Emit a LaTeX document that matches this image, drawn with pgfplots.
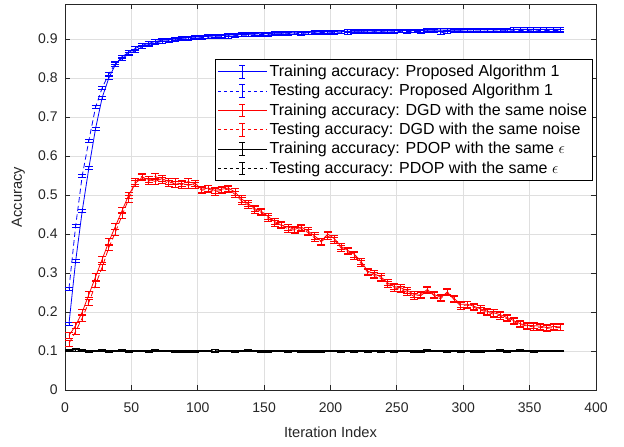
\documentclass[border=0pt]{standalone}
\usepackage{pgfplots}
\usepackage{pgfplotstable}
\pgfplotsset{compat=1.18}
\usepackage{fontspec}
\setmainfont{Liberation Sans}

\definecolor{gridgray}{RGB}{223,223,223}
\definecolor{axgray}{RGB}{38,38,38}

% x, training/testing accuracy for the three methods
\pgfplotstableread{
x   bt    bs    rt    rs    kt    ks
3   0.170 0.260 0.140 0.120 0.103 0.100
8   0.330 0.420 0.165 0.150 0.105 0.101
13  0.460 0.550 0.200 0.185 0.101 0.100
18  0.570 0.640 0.245 0.225 0.100 0.099
23  0.670 0.725 0.290 0.270 0.100 0.100
28  0.750 0.775 0.335 0.315 0.101 0.100
33  0.800 0.810 0.380 0.365 0.100 0.099
38  0.835 0.838 0.420 0.405 0.100 0.100
43  0.855 0.850 0.460 0.448 0.101 0.100
48  0.866 0.862 0.500 0.490 0.100 0.099
53  0.876 0.870 0.530 0.535 0.100 0.100
58  0.884 0.880 0.545 0.548 0.100 0.100
63  0.889 0.886 0.540 0.535 0.100 0.099
68  0.894 0.890 0.535 0.548 0.102 0.100
73  0.897 0.894 0.542 0.538 0.100 0.100
78  0.899 0.896 0.535 0.530 0.100 0.100
83  0.901 0.898 0.528 0.535 0.100 0.099
88  0.902 0.900 0.530 0.526 0.099 0.100
93  0.904 0.901 0.525 0.535 0.098 0.100
98  0.905 0.902 0.530 0.524 0.100 0.099
103 0.906 0.904 0.515 0.512 0.100 0.100
108 0.907 0.905 0.518 0.516 0.100 0.100
113 0.908 0.906 0.512 0.508 0.098 0.101
118 0.909 0.906 0.515 0.512 0.100 0.100
123 0.910 0.907 0.518 0.515 0.100 0.100
128 0.911 0.909 0.508 0.502 0.100 0.099
133 0.912 0.910 0.490 0.485 0.100 0.100
138 0.912 0.910 0.478 0.474 0.101 0.100
143 0.913 0.911 0.465 0.462 0.100 0.100
148 0.914 0.912 0.458 0.455 0.099 0.100
153 0.914 0.912 0.445 0.440 0.098 0.099
158 0.915 0.913 0.432 0.428 0.100 0.100
163 0.915 0.913 0.422 0.425 0.100 0.100
168 0.916 0.914 0.418 0.412 0.100 0.099
173 0.916 0.915 0.412 0.410 0.100 0.100
178 0.917 0.914 0.418 0.414 0.098 0.100
183 0.917 0.916 0.408 0.404 0.099 0.100
188 0.918 0.916 0.395 0.390 0.100 0.099
193 0.918 0.917 0.382 0.380 0.099 0.100
198 0.919 0.916 0.400 0.395 0.100 0.100
203 0.919 0.917 0.388 0.384 0.100 0.100
208 0.919 0.918 0.368 0.364 0.100 0.099
213 0.920 0.917 0.358 0.355 0.100 0.100
218 0.920 0.918 0.348 0.344 0.099 0.100
223 0.920 0.919 0.330 0.325 0.100 0.100
228 0.921 0.918 0.305 0.302 0.100 0.099
233 0.921 0.919 0.298 0.294 0.100 0.100
238 0.921 0.919 0.290 0.286 0.099 0.100
243 0.921 0.918 0.275 0.270 0.100 0.100
248 0.922 0.919 0.265 0.262 0.100 0.099
253 0.922 0.920 0.262 0.258 0.100 0.100
258 0.922 0.919 0.255 0.250 0.100 0.100
263 0.922 0.920 0.245 0.240 0.099 0.100
268 0.922 0.919 0.242 0.245 0.098 0.099
273 0.923 0.920 0.255 0.258 0.101 0.100
278 0.923 0.921 0.245 0.242 0.100 0.100
283 0.923 0.916 0.238 0.234 0.100 0.100
288 0.923 0.919 0.250 0.252 0.100 0.099
293 0.923 0.920 0.235 0.232 0.100 0.100
298 0.923 0.921 0.220 0.216 0.099 0.100
303 0.924 0.920 0.220 0.218 0.100 0.100
308 0.924 0.921 0.215 0.212 0.100 0.099
313 0.924 0.921 0.208 0.205 0.099 0.100
318 0.924 0.920 0.202 0.200 0.100 0.100
323 0.924 0.921 0.198 0.194 0.100 0.100
328 0.924 0.921 0.193 0.190 0.101 0.100
333 0.924 0.922 0.186 0.183 0.100 0.099
338 0.925 0.921 0.178 0.175 0.100 0.100
343 0.925 0.922 0.170 0.168 0.101 0.100
348 0.925 0.922 0.166 0.164 0.100 0.100
353 0.925 0.921 0.165 0.162 0.100 0.099
358 0.925 0.922 0.164 0.161 0.100 0.100
363 0.925 0.922 0.160 0.158 0.100 0.100
368 0.925 0.922 0.163 0.160 0.100 0.100
373 0.925 0.922 0.162 0.160 0.100 0.100
}\acctable

\pgfplotsset{
  ebar/.code={
    \draw[#1] (0cm,0cm) -- (1.28cm,0cm);
    \draw[#1,solid] (0.64cm,-0.17cm) -- (0.64cm,0.17cm);
    \draw[#1,solid] (0.56cm,-0.17cm) -- (0.72cm,-0.17cm);
    \draw[#1,solid] (0.56cm,0.17cm) -- (0.72cm,0.17cm);
  },
  dashedline/.style={dash pattern=on 4pt off 2.5pt},
}

\begin{document}
\begin{tikzpicture}
\useasboundingbox (-48.75pt,-42pt) rectangle (419.25pt,292.5pt);
\begin{axis}[
  at={(0,0)}, anchor=south west,
  scale only axis,
  width=398.25pt, height=289.5pt,
  xmin=0, xmax=400, ymin=0, ymax=0.99,
  xtick={0,50,...,400},
  ytick={0,0.1,...,0.9},
  yticklabels={0,0.1,0.2,0.3,0.4,0.5,0.6,0.7,0.8,0.9},
  grid=major,
  major grid style={gridgray, line width=0.6pt},
  axis line style={axgray, line width=0.6pt},
  tick style={axgray, line width=0.6pt},
  major tick length=4pt,
  tick align=inside,
  ticklabel style={font=\fontsize{10.5}{12}\selectfont, text=axgray},
  xticklabel style={yshift=-6pt},
  yticklabel style={xshift=-2pt},
  /pgf/number format/assume math mode=true,
  xlabel={Iteration Index},
  ylabel={Accuracy},
  label style={font=\fontsize{11}{13}\selectfont, text=axgray},
  xlabel style={yshift=-4pt},
  ylabel style={yshift=3pt},
  legend style={at={(0.994,0.857)}, anchor=north east, draw=black,
    line width=0.6pt, fill=white,
    font=\fontsize{12}{14}\selectfont, row sep=0.3pt, inner sep=2pt,
    cells={anchor=west}},
  legend cell align=left,
  error bars/y dir=both,
  error bars/error bar style={solid, line width=0.6pt},
  error bars/error mark options={solid, rotate=90, mark size=3pt, line width=0.6pt},
]
\addplot[blue, solid, line width=0.6pt, mark=none, legend image code/.code={\pgfplotsset{ebar={blue}}}, error bars/y fixed=0.004]
  table[x=x, y=bt] {\acctable};
\addlegendentry{Training accuracy: Proposed Algorithm 1}
\addplot[blue, dashedline, line width=0.6pt, mark=none, legend image code/.code={\pgfplotsset{ebar={blue,dash pattern=on 2.5pt off 2pt}}}, error bars/y fixed=0.004]
  table[x=x, y=bs] {\acctable};
\addlegendentry{Testing accuracy: Proposed Algorithm 1}
\addplot[red, solid, line width=0.6pt, mark=none, legend image code/.code={\pgfplotsset{ebar={red}}}, error bars/y fixed=0.008]
  table[x=x, y=rt] {\acctable};
\addlegendentry{Training accuracy: DGD with the same noise}
\addplot[red, dashedline, line width=0.6pt, mark=none, legend image code/.code={\pgfplotsset{ebar={red,dash pattern=on 2.5pt off 2pt}}}, error bars/y fixed=0.008]
  table[x=x, y=rs] {\acctable};
\addlegendentry{Testing accuracy: DGD with the same noise}
\addplot[black, solid, line width=0.6pt, mark=none, legend image code/.code={\pgfplotsset{ebar={black}}}, error bars/y fixed=0.002]
  table[x=x, y=kt] {\acctable};
\addlegendentry{Training accuracy: PDOP with the same $\epsilon$}
\addplot[black, dashedline, line width=0.6pt, mark=none, legend image code/.code={\pgfplotsset{ebar={black,dash pattern=on 2.5pt off 2pt}}}, error bars/y fixed=0.002]
  table[x=x, y=ks] {\acctable};
\addlegendentry{Testing accuracy: PDOP with the same $\epsilon$}
\end{axis}
\end{tikzpicture}
\end{document}
